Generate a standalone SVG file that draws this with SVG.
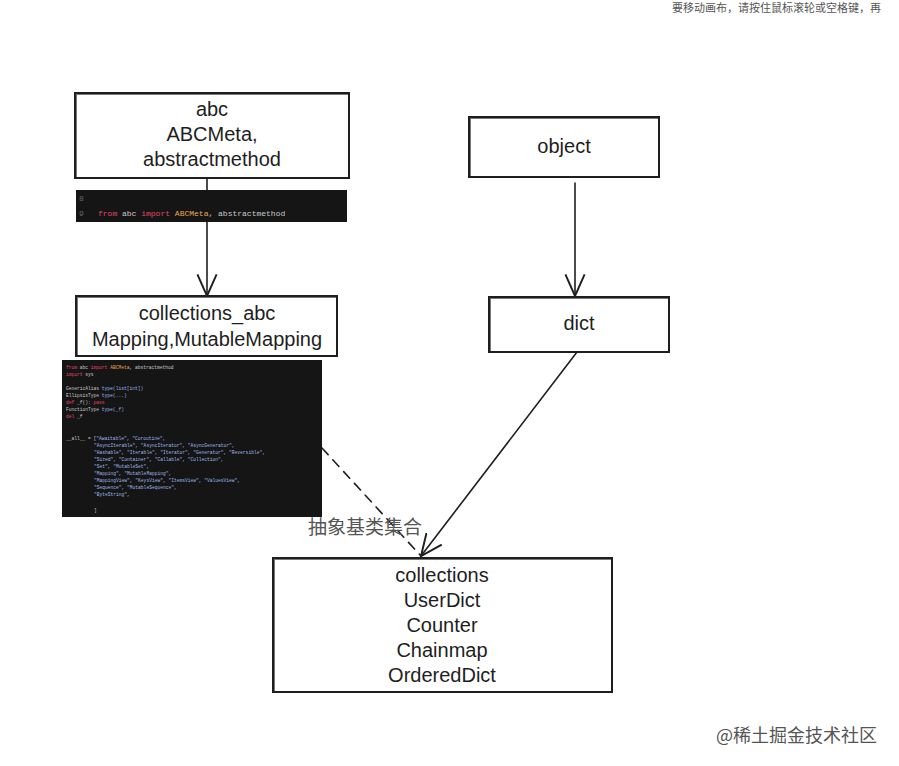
<svg xmlns="http://www.w3.org/2000/svg" width="899" height="766" viewBox="0 0 899 766">
<defs>
<style>
.box{fill:#fff;stroke:#1e1e1e;stroke-width:2}
.box2{fill:none;stroke:#1e1e1e;stroke-width:1;opacity:.6}
.lbl{font-family:"Liberation Sans","Noto Sans",sans-serif;font-size:20px;fill:#1e1e1e;text-anchor:middle}
.edge{fill:none;stroke:#1e1e1e;stroke-width:1.6;stroke-linecap:round}
.code{fill:#151515}
.ct{font-family:"Liberation Mono","DejaVu Sans Mono",monospace;font-size:4.6px;fill:#c8c8c8}
.ct8{font-family:"Liberation Mono","DejaVu Sans Mono",monospace;font-size:8px;fill:#c8c8c8}
.kw{fill:#e0456a}
.cls{fill:#e8a54a}
.str{fill:#9fb8e8}
.ln{fill:#666}
.note{font-family:"Noto Sans CJK SC","Noto Sans",sans-serif;fill:#555}
</style>
<marker id="open" viewBox="0 0 20 20" refX="18" refY="10" markerWidth="24" markerHeight="24" markerUnits="userSpaceOnUse" orient="auto">
<path d="M0,2 L18,10 L0,18" fill="none" stroke="#1e1e1e" stroke-width="1.6"/>
</marker>
</defs>
<rect width="899" height="766" fill="#fff"/>
<text class="note" x="672" y="12" font-size="11" fill="#999">要移动画布，请按住鼠标滚轮或空格键，再</text>

<g id="connectors">
<line class="edge" x1="207" y1="178" x2="207" y2="296" marker-end="url(#open)"/>
<line class="edge" x1="575" y1="183" x2="575" y2="296" marker-end="url(#open)"/>
<line class="edge" x1="577" y1="352" x2="421" y2="556" marker-end="url(#open)"/>
<line class="edge" x1="322" y1="448" x2="421" y2="556" stroke-dasharray="9,7" stroke-linecap="butt"/>
</g>

<g id="node-abc">
<rect class="box" x="75" y="93" width="274" height="85"/>
<rect class="box2" x="76.5" y="94.5" width="272" height="83"/>
<text class="lbl" x="212" y="116">abc</text>
<text class="lbl" x="212" y="141">ABCMeta,</text>
<text class="lbl" x="212" y="166">abstractmethod</text>
</g>

<g id="code-1">
<rect class="code" x="76" y="190" width="271" height="32"/>
<text class="ct8 ln" x="79" y="201">8</text>
<text class="ct8" x="79" y="216"><tspan class="ln">9</tspan><tspan x="98" class="kw">from</tspan> abc <tspan class="kw">import</tspan> <tspan class="cls">ABCMeta</tspan>, abstractmethod</text>
</g>

<g id="node-collections_abc">
<rect class="box" x="76" y="296" width="261" height="60"/>
<rect class="box2" x="77.5" y="297.5" width="259" height="58"/>
<text class="lbl" x="207" y="320">collections_abc</text>
<text class="lbl" x="207" y="346">Mapping,MutableMapping</text>
</g>

<g id="code-2">
<rect class="code" x="62" y="360" width="260" height="157"/>
<text class="ct" x="66" y="369"><tspan class="kw">from</tspan> abc <tspan class="kw">import</tspan> <tspan class="cls">ABCMeta</tspan>, abstractmethod</text>
<text class="ct" x="66" y="376"><tspan class="kw">import</tspan> sys</text>
<text class="ct" x="66" y="390">GenericAlias   <tspan class="str">type(list[int])</tspan></text>
<text class="ct" x="66" y="397">EllipsisType   <tspan class="str">type(...)</tspan></text>
<text class="ct" x="66" y="404"><tspan class="kw">def</tspan> _f(): <tspan class="kw">pass</tspan></text>
<text class="ct" x="66" y="411">FunctionType   <tspan class="str">type(_f)</tspan></text>
<text class="ct" x="66" y="418"><tspan class="kw">del</tspan> _f</text>
<text class="ct" x="66" y="440">__all__ = [<tspan class="str">"Awaitable", "Coroutine",</tspan></text>
<text class="ct str" x="94" y="447">"AsyncIterable", "AsyncIterator", "AsyncGenerator",</text>
<text class="ct str" x="94" y="454">"Hashable", "Iterable", "Iterator", "Generator", "Reversible",</text>
<text class="ct str" x="94" y="461">"Sized", "Container", "Callable", "Collection",</text>
<text class="ct str" x="94" y="468">"Set", "MutableSet",</text>
<text class="ct str" x="94" y="475">"Mapping", "MutableMapping",</text>
<text class="ct str" x="94" y="482">"MappingView", "KeysView", "ItemsView", "ValuesView",</text>
<text class="ct str" x="94" y="489">"Sequence", "MutableSequence",</text>
<text class="ct str" x="94" y="496">"ByteString",</text>
<text class="ct" x="94" y="512">]</text>
</g>

<g id="node-object">
<rect class="box" x="469" y="117" width="190" height="60"/>
<rect class="box2" x="470.5" y="118.5" width="188" height="58"/>
<text class="lbl" x="564" y="153">object</text>
</g>

<g id="node-dict">
<rect class="box" x="489" y="297" width="180" height="55"/>
<rect class="box2" x="490.5" y="298.5" width="178" height="53"/>
<text class="lbl" x="579" y="330">dict</text>
</g>

<g id="label-abstract">
<text class="note" x="308" y="534" font-size="19" fill="#444">抽象基类集合</text>
</g>

<g id="node-collections">
<rect class="box" x="273" y="558" width="339" height="134"/>
<rect class="box2" x="274.5" y="559.5" width="337" height="132"/>
<text class="lbl" x="442" y="582">collections</text>
<text class="lbl" x="442" y="607">UserDict</text>
<text class="lbl" x="442" y="632">Counter</text>
<text class="lbl" x="442" y="657">Chainmap</text>
<text class="lbl" x="442" y="682">OrderedDict</text>
</g>

<text class="note" x="716" y="742" font-size="18" fill="#b5b5b5">@稀土掘金技术社区</text>
</svg>
